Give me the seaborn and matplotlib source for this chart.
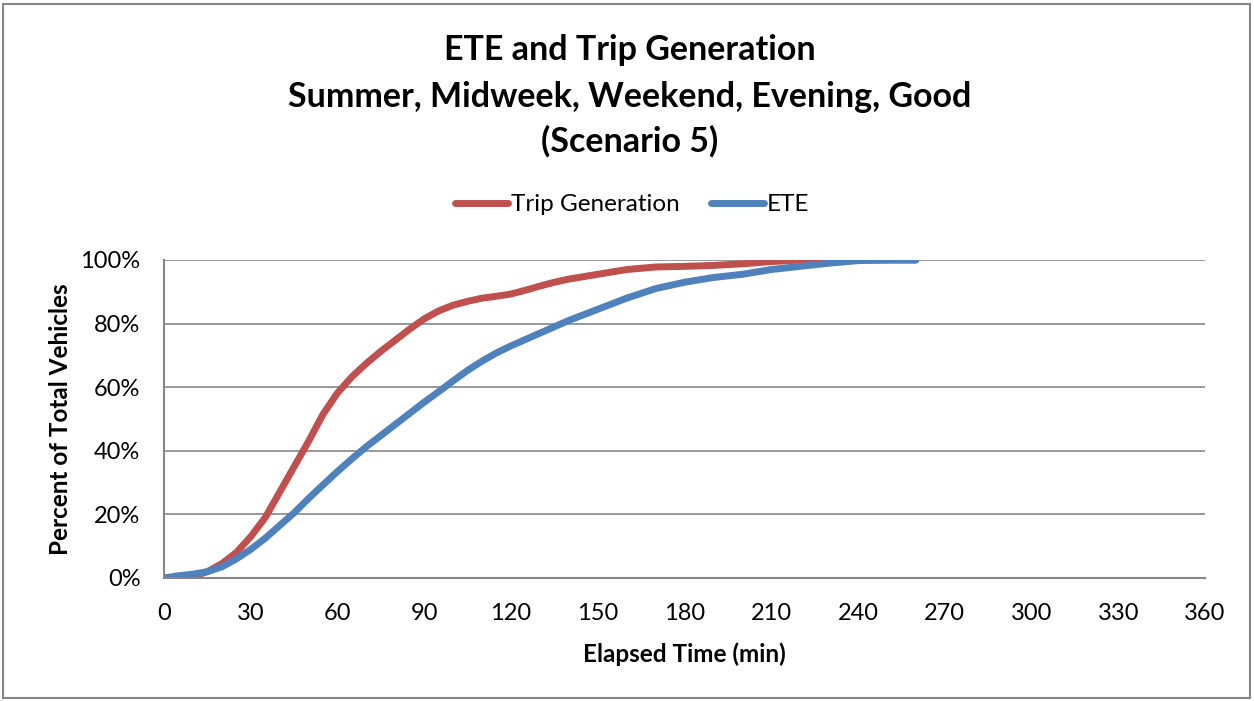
import numpy as np
import pandas as pd
import matplotlib
matplotlib.use("Agg")
import matplotlib.pyplot as plt
import seaborn as sns
from matplotlib.patches import Rectangle
from matplotlib.lines import Line2D

# %% veri
trip_dk = [0, 5, 10, 15, 20, 25, 30, 35, 40, 45, 50, 55, 60, 65, 70, 75, 80, 85, 90,
           95, 100, 105, 110, 115, 120, 125, 130, 135, 140, 150, 160, 170, 180, 190,
           200, 210, 220, 230, 240, 250, 260]
trip_yuzde = [0, 0, 0.5, 2, 4.5, 8, 13, 19, 27, 35, 43, 51.5, 58.2, 63.3, 67.5, 71.3,
              74.8, 78.3, 81.5, 84, 85.8, 87, 88, 88.6, 89.3, 90.5, 91.8, 93, 94, 95.5,
              97, 97.8, 98, 98.3, 98.8, 99.5, 100, 100, 100, 100, 100]

ete_dk = [0, 5, 10, 15, 20, 25, 30, 35, 40, 45, 50, 55, 60, 65, 70, 75, 80, 85, 90, 95,
          100, 105, 110, 115, 120, 130, 140, 150, 160, 170, 180, 190, 200, 210, 220,
          230, 240, 250, 260]
ete_yuzde = [0, 0.7, 1.2, 2, 3.5, 6, 9, 12.5, 16.5, 20.5, 25, 29.3, 33.5, 37.5, 41.3,
             44.8, 48.3, 51.8, 55.3, 58.6, 62, 65.3, 68.2, 70.8, 73, 77, 81, 84.5, 88,
             91, 93, 94.5, 95.5, 97, 98, 99, 99.8, 100, 100]

x_ticks = np.arange(0, 361, 30)
y_ticks = np.arange(0, 101, 20)

veri = pd.concat([
    pd.DataFrame({"dk": trip_dk, "yuzde": trip_yuzde, "seri": "Trip Generation"}),
    pd.DataFrame({"dk": ete_dk, "yuzde": ete_yuzde, "seri": "ETE"}),
])

# %% grafik
sns.set_style("white")
plt.rcParams["font.family"] = ["Lato", "DejaVu Sans"]
plt.rcParams["text.color"] = "black"
plt.rcParams["xtick.labelcolor"] = "black"
plt.rcParams["ytick.labelcolor"] = "black"

fig = plt.figure(figsize=(12.54, 7.01), dpi=100)
ax = fig.add_axes([164 / 1254, 1 - 578 / 701, (1205 - 164) / 1254, (578 - 260) / 701])

sns.lineplot(data=veri, x="dk", y="yuzde", hue="seri",
             palette={"Trip Generation": "#C0504D", "ETE": "#4F81BD"},
             linewidth=5, ax=ax, legend=False, sort=False, solid_capstyle="round")

ax.set_xlim(0, 360)
ax.set_ylim(0, 100)
ax.set_xticks(x_ticks)
ax.set_yticks(y_ticks)
ax.set_yticklabels([f"{v}%" for v in y_ticks])
ax.grid(axis="y", color="#868686", linewidth=1.2)
ax.set_axisbelow(True)
for k in ["top", "right"]:
    ax.spines[k].set_visible(False)
for k in ["left", "bottom"]:
    ax.spines[k].set_color("#868686")
    ax.spines[k].set_linewidth(1.5)
ax.tick_params(axis="x", direction="in", length=6, width=1.5, color="#868686",
               labelsize=17, pad=18, labelcolor="black")
ax.tick_params(axis="y", length=0, labelsize=17, pad=17, labelcolor="black")
ax.set_xlabel("")
ax.set_ylabel("")

fig.text(0.048, 0.402, "Percent of Total Vehicles", rotation=90, ha="center",
         va="center", fontsize=17.5, fontweight="bold", color="black")
fig.text(0.546, 0.067, "Elapsed Time (min)", ha="center", va="center",
         fontsize=17.5, fontweight="bold", color="black")

baslik = ["ETE and Trip Generation", "Summer, Midweek, Weekend, Evening, Good",
          "(Scenario 5)"]
for satir, yy in zip(baslik, [0.929, 0.862, 0.799]):
    fig.text(0.502, yy, satir, ha="center", va="center", fontsize=24.5,
             fontweight="bold", color="black")

handles = [Line2D([], [], color="#C0504D", linewidth=5, solid_capstyle="round"),
           Line2D([], [], color="#4F81BD", linewidth=5, solid_capstyle="round")]
fig.legend(handles, ["Trip Generation", "ETE"], loc="center", ncol=2,
           bbox_to_anchor=(0.504, 0.708), frameon=False, fontsize=17.5,
           handlelength=2.2, handletextpad=0.1, columnspacing=1.3,
           labelcolor="black")

fig.patches.append(Rectangle((3 / 1254, 3 / 701), 1247 / 1254, 694 / 701,
                             transform=fig.transFigure, fill=False,
                             edgecolor="#868686", linewidth=1.5))

fig.savefig("out.png", dpi=100)
